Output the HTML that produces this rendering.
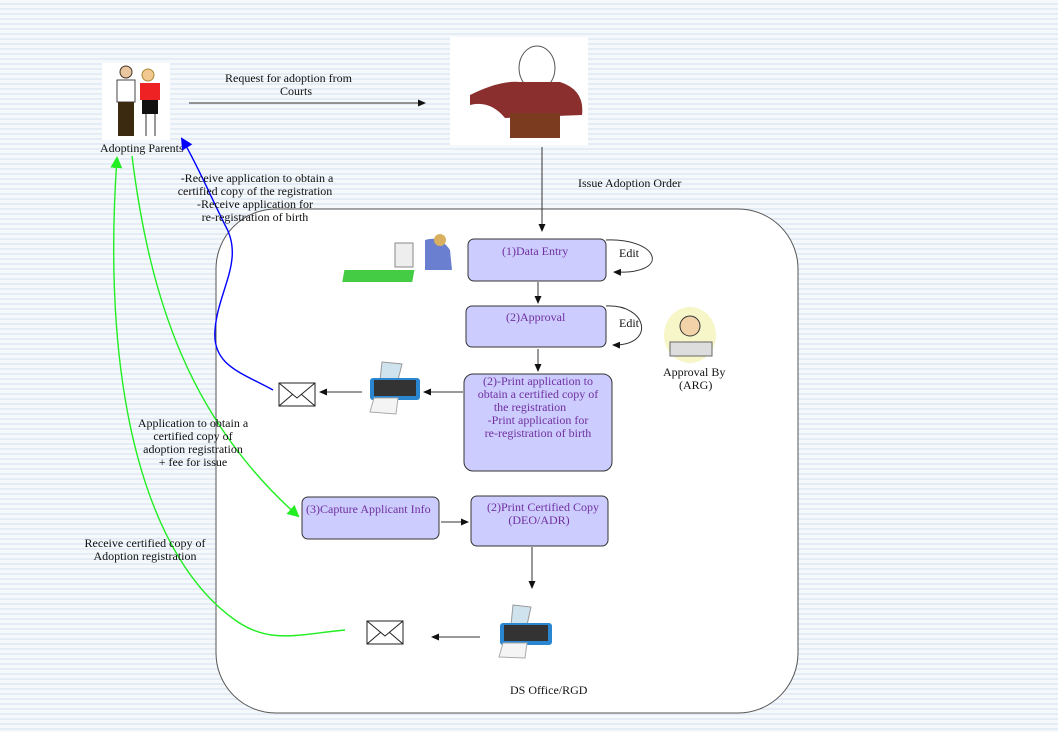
<!DOCTYPE html>
<html><head><meta charset="utf-8"><style>
html,body{margin:0;padding:0}
body{width:1058px;height:732px;overflow:hidden;background:#f3f7fb repeating-linear-gradient(180deg,#f6f9fc 0,#f6f9fc 3px,#e4edf6 3px,#e4edf6 5px);}
svg{position:absolute;left:0;top:0}
text{font-family:"Liberation Serif",serif;font-size:12px;fill:#111}
.p{fill:#7030a0}
</style></head><body>
<svg width="1058" height="732" viewBox="0 0 1058 732">
<defs>
<marker id="a" markerWidth="8" markerHeight="8" refX="7" refY="4" orient="auto" markerUnits="userSpaceOnUse"><path d="M0,0.5 L8,4 L0,7.5z" fill="#111"/></marker>
<marker id="g" markerWidth="12" markerHeight="12" refX="10" refY="6" orient="auto" markerUnits="userSpaceOnUse"><path d="M0,0 L12,6 L0,12z" fill="#2e2"/></marker>
<marker id="b" markerWidth="12" markerHeight="12" refX="10" refY="6" orient="auto" markerUnits="userSpaceOnUse"><path d="M0,0 L12,6 L0,12z" fill="#00f"/></marker>
</defs>
<rect x="216" y="209" width="582" height="504" rx="60" fill="#fff" stroke="#555"/>
<!-- parents -->
<rect x="102" y="63" width="68" height="77" fill="#fff"/>
<circle cx="126" cy="72" r="6" fill="#eac7a0" stroke="#432"/>
<rect x="117" y="80" width="18" height="22" fill="#fff" stroke="#444"/>
<rect x="118" y="102" width="16" height="34" fill="#3b2a10"/>
<circle cx="148" cy="75" r="6" fill="#f0c890" stroke="#a83"/>
<rect x="140" y="83" width="20" height="17" fill="#e22" />
<rect x="142" y="100" width="16" height="14" fill="#111"/>
<line x1="146" y1="114" x2="146" y2="136" stroke="#333"/><line x1="155" y1="114" x2="155" y2="136" stroke="#333"/>
<text x="100" y="152">Adopting Parents</text>
<!-- judge -->
<rect x="450" y="37" width="138" height="108" fill="#fff"/>
<ellipse cx="537" cy="68" rx="18" ry="22" fill="#fff" stroke="#555"/>
<path d="M470,95 Q500,80 520,82 L560,82 Q585,90 582,115 L505,118 Q490,100 470,105z" fill="#8b2e2e"/>
<rect x="510" y="113" width="50" height="25" fill="#7a3b1e"/>
<text x="225" y="82">Request for adoption from</text>
<text x="280" y="95">Courts</text>
<line x1="189" y1="103" x2="425" y2="103" stroke="#333" marker-end="url(#a)"/>
<line x1="542" y1="147" x2="542" y2="231" stroke="#333" marker-end="url(#a)"/>
<text x="578" y="187">Issue Adoption Order</text>
<!-- boxes -->
<rect x="468" y="239" width="138" height="42" rx="6" fill="#ccccff" stroke="#333"/>
<text x="502" y="255" class="p">(1)Data Entry</text>
<rect x="466" y="306" width="140" height="41" rx="6" fill="#ccccff" stroke="#333"/>
<text x="506" y="321" class="p">(2)Approval</text>
<rect x="464" y="374" width="148" height="97" rx="9" fill="#ccccff" stroke="#333"/>
<text x="538" y="385" class="p" text-anchor="middle">(2)-Print application to</text>
<text x="538" y="398" class="p" text-anchor="middle">obtain a certified copy of</text>
<text x="530" y="411" class="p" text-anchor="middle">the registration</text>
<text x="538" y="424" class="p" text-anchor="middle">-Print application for</text>
<text x="538" y="437" class="p" text-anchor="middle">re-registration of birth</text>
<rect x="302" y="497" width="137" height="42" rx="6" fill="#ccccff" stroke="#333"/>
<text x="306" y="513" class="p">(3)Capture Applicant Info</text>
<rect x="471" y="496" width="137" height="50" rx="6" fill="#ccccff" stroke="#333"/>
<text x="543" y="511" class="p" text-anchor="middle">(2)Print Certified Copy</text>
<text x="539" y="524" class="p" text-anchor="middle">(DEO/ADR)</text>
<!-- edit loops -->
<path d="M606,240 C660,238 672,275 614,272" fill="none" stroke="#333" marker-end="url(#a)"/>
<text x="619" y="257">Edit</text>
<path d="M606,306 C648,304 656,346 613,345" fill="none" stroke="#333" marker-end="url(#a)"/>
<text x="619" y="327">Edit</text>
<!-- arrows -->
<line x1="538" y1="282" x2="538" y2="303" stroke="#333" marker-end="url(#a)"/>
<line x1="538" y1="349" x2="538" y2="371" stroke="#333" marker-end="url(#a)"/>
<line x1="463" y1="392" x2="424" y2="392" stroke="#333" marker-end="url(#a)"/>
<line x1="362" y1="392" x2="320" y2="392" stroke="#333" marker-end="url(#a)"/>
<line x1="441" y1="522" x2="468" y2="522" stroke="#333" marker-end="url(#a)"/>
<line x1="532" y1="547" x2="532" y2="588" stroke="#333" marker-end="url(#a)"/>
<line x1="480" y1="637" x2="432" y2="637" stroke="#333" marker-end="url(#a)"/>
<!-- clerk -->
<rect x="392" y="270" width="70" height="12" fill="#4c4" transform="skewX(-10)"/>
<rect x="395" y="243" width="18" height="24" fill="#eee" stroke="#888"/>
<path d="M425,240 Q440,235 450,250 L452,270 L425,270z" fill="#6a7fd0"/>
<circle cx="440" cy="240" r="6" fill="#d8b060"/>
<!-- ARG -->
<ellipse cx="690" cy="335" rx="26" ry="28" fill="#f6f6c8"/>
<circle cx="690" cy="326" r="10" fill="#f2d2a8" stroke="#333"/>
<rect x="670" y="342" width="42" height="14" fill="#ddd" stroke="#666"/>
<text x="663" y="376">Approval By</text>
<text x="679" y="389">(ARG)</text>
<!-- printers -->
<g transform="translate(368,362)">
<path d="M14,0 L34,2 L30,18 L12,18z" fill="#cfe3ee" stroke="#999"/>
<rect x="2" y="16" width="50" height="22" rx="3" fill="#2a86d0"/><rect x="6" y="18" width="42" height="16" fill="#333"/>
<path d="M6,36 L30,36 L28,52 L2,50z" fill="#f4f4f4" stroke="#aaa"/>
</g>
<g transform="translate(497,605)">
<path d="M16,0 L34,2 L30,20 L14,20z" fill="#cfe3ee" stroke="#999"/>
<rect x="3" y="18" width="52" height="22" rx="3" fill="#2a86d0"/><rect x="7" y="20" width="44" height="16" fill="#333"/>
<path d="M6,38 L30,38 L28,53 L2,52z" fill="#f4f4f4" stroke="#aaa"/>
</g>
<!-- envelopes -->
<rect x="279" y="383" width="36" height="23" fill="#fff" stroke="#222"/><path d="M279,383 L297,398 L315,383 M279,406 L293,394 M315,406 L301,394" fill="none" stroke="#222"/>
<rect x="367" y="621" width="36" height="23" fill="#fff" stroke="#222"/><path d="M367,621 L385,636 L403,621 M367,644 L381,632 M403,644 L389,632" fill="none" stroke="#222"/>
<text x="510" y="694">DS Office/RGD</text>
<!-- curves -->
<path d="M273,390 C240,372 212,365 215,330 C218,290 245,260 225,225 C210,195 195,160 182,139" fill="none" stroke="#00f" stroke-width="1.4" marker-end="url(#b)"/>
<path d="M132,156 C150,300 190,420 298,516" fill="none" stroke="#2e2" stroke-width="1.4" marker-end="url(#g)"/>
<path d="M345,630 C300,634 270,645 235,620 C150,560 100,400 117,158" fill="none" stroke="#2e2" stroke-width="1.4" marker-end="url(#g)"/>
<text x="257" y="182" text-anchor="middle">-Receive application to obtain a</text>
<text x="255" y="195" text-anchor="middle">certified copy of the registration</text>
<text x="255" y="208" text-anchor="middle">-Receive application for</text>
<text x="255" y="221" text-anchor="middle">re-registration of birth</text>
<text x="193" y="427" text-anchor="middle">Application to obtain a</text>
<text x="193" y="440" text-anchor="middle">certified copy of</text>
<text x="193" y="453" text-anchor="middle">adoption registration</text>
<text x="193" y="466" text-anchor="middle">+ fee for issue</text>
<text x="145" y="547" text-anchor="middle">Receive certified copy of</text>
<text x="145" y="560" text-anchor="middle">Adoption registration</text>
</svg>
</body></html>
